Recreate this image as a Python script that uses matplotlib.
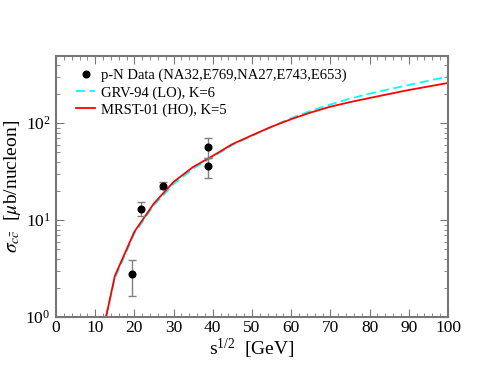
import numpy as np
import matplotlib
matplotlib.use("Agg")
import matplotlib.pyplot as plt
from matplotlib.ticker import MultipleLocator, LogLocator, NullFormatter

plt.rcParams['font.family'] = ['Liberation Serif', 'DejaVu Serif']
plt.rcParams['mathtext.fontset'] = 'stix'

# p-N data points (sqrt(s), sigma, lower, upper)
data_x = [19.4, 21.7, 27.4, 38.8, 38.8]
data_y = [2.75, 13.1, 22.4, 56.6, 35.8]
data_lo = [1.66, 10.9, 20.7, 44.0, 26.9]
data_hi = [3.85, 15.4, 24.5, 71.0, 44.0]

# GRV-94 (LO), K=6
grv_x = [12.0, 15, 20, 25, 30, 35, 40, 45, 50, 55, 60, 65, 70, 75, 80, 90, 100]
grv_y = [0.75, 2.5, 7.3, 14.3, 23.5, 34.0, 45.0, 59.5, 74.0, 92.0, 113, 134, 156, 179, 202, 248, 303]

# MRST-01 (HO), K=5
mrst_x = [12.0, 15, 20, 25, 30, 35, 40, 45, 50, 55, 60, 65, 70, 75, 80, 90, 100]
mrst_y = [0.72, 2.65, 7.6, 14.9, 24.8, 35.4, 46.0, 60.8, 75.0, 92.0, 110, 129, 148, 165, 182, 220, 260]

fig = plt.figure(figsize=(4.83, 3.73), dpi=100)
ax = fig.add_axes([0.116, 0.150, 0.8115, 0.700])

ax.plot(grv_x, grv_y, color='cyan', ls=(0, (5, 2.5)), lw=1.3, label='GRV-94 (LO), K=6')
ax.plot(mrst_x, mrst_y, color='red', lw=1.3, label='MRST-01 (HO), K=5')

yerr = [np.array(data_y) - np.array(data_lo), np.array(data_hi) - np.array(data_y)]
ax.errorbar(data_x, data_y, yerr=yerr, fmt='none', ecolor='grey',
            elinewidth=1, capsize=3, capthick=1)
ax.plot(data_x, data_y, 'o', color='black', ms=4.8, ls='none',
        label='p-N Data (NA32,E769,NA27,E743,E653)')

ax.set_yscale('log')
ax.set_xlim(0, 100)
ax.set_ylim(1, 494)
ax.xaxis.set_major_locator(MultipleLocator(10))
ax.xaxis.set_minor_locator(MultipleLocator(2))
ax.yaxis.set_major_locator(LogLocator(base=10))
ax.yaxis.set_minor_locator(LogLocator(base=10, subs=np.arange(2, 10)))
ax.yaxis.set_minor_formatter(NullFormatter())

for s in ax.spines.values():
    s.set_color('#777777')
    s.set_linewidth(1.5)
ax.tick_params(which='both', direction='in', top=True, right=True, color='#777777',
               labelsize=12.5)
ax.tick_params(axis='x', pad=2)
ax.tick_params(axis='y', pad=4)
ax.tick_params(which='major', length=6)
ax.tick_params(which='minor', length=3)

ax.set_xlabel(r'$\mathregular{s^{1/2}}$  [GeV]', fontsize=14, labelpad=1)
ax.set_ylabel(r'$\sigma_{c\bar{c}}$  [$\mu$b/nucleon]', fontsize=14, labelpad=2)

handles, labels = ax.get_legend_handles_labels()
order = [2, 0, 1]
ax.legend([handles[i] for i in order], [labels[i] for i in order],
          loc='upper left', bbox_to_anchor=(0.052, 0.95), frameon=False,
          fontsize=10.5, handlelength=1.3, labelspacing=0.25,
          borderaxespad=0, borderpad=0, handletextpad=0.4)

fig.savefig('out.png', dpi=100)
